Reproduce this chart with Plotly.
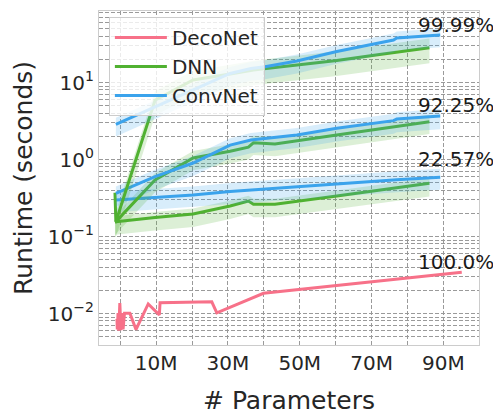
import plotly.graph_objects as go
import numpy as np

# ---------------- data (x in millions of parameters, y in seconds) ----------------
deco_x = [-0.9, -0.8, -0.6, -0.4, -0.1, 0.2, 0.5, 0.8, 1.2, 2.7, 4.4, 7.8, 10.9, 11.1, 25.5, 26.9, 39.9, 95.1]
deco_y = [0.0085, 0.0062, 0.0101, 0.0060, 0.0137, 0.0061, 0.0101, 0.0062, 0.0101, 0.0101,
          0.0062, 0.0133, 0.0096, 0.0138, 0.0142, 0.0102, 0.0183, 0.0343]

dnn_x = [-1.45, -1.2, 9.7, 20.3, 30.6, 35.7, 37.1, 43.1, 60.3, 71.2, 86.1]
dnn_top = [0.156, 0.156, 5.9, 10.8, 12.9, 14.3, 14.5, 15.7, 19.3, 22.8, 28.3]
dnn_mid = [0.37, 0.156, 0.542, 1.045, 1.28, 1.45, 1.65, 1.59, 2.08, 2.47, 3.10]
dnn_low = [0.156, 0.156, 0.177, 0.196, 0.249, 0.289, 0.263, 0.263, 0.337, 0.393, 0.491]

conv_x = [-1.2, 9.7, 20.3, 30.6, 36.4, 40.3, 49.2, 60.3, 76.1, 77.0, 89.1]
conv_top = [2.87, 4.8, 8.0, 13.1, 15.2, 16.0, 19.0, 25.3, 35.6, 37.8, 41.4]
conv_mid = [0.364, 0.598, 0.901, 1.54, 1.79, 1.88, 2.08, 2.54, 3.2, 3.35, 3.67]
conv_low = [0.298, 0.321, 0.346, 0.384, 0.402, 0.414, 0.44, 0.481, 0.541, 0.545, 0.587]

# band half-widths (log10 decades): (up, down)
dnn_band = {"top": (0.12, 0.20), "mid": (0.09, 0.16), "low": (0.07, 0.17)}
conv_band = {"top": (0.085, 0.16), "mid": (0.09, 0.17), "low": (0.11, 0.16)}

ann_text = ["99.99%", "92.25%", "22.57%", "100.0%"]
ann_y = [55.8, 5.1, 1.015, 0.0467]
ann_x = 82.4

xtick_vals = [10, 30, 50, 70, 90]
xtick_text = ["10M", "30M", "50M", "70M", "90M"]
xminor_vals = [0, 20, 40, 60, 80]
ytick_vals = [0.01, 0.1, 1, 10]
ytick_text = ["10<sup>\u22122</sup>", "10<sup>\u22121</sup>", "10<sup>0</sup>", "10<sup>1</sup>"]

PINK = "#f77189"
GREEN = "#50b131"
BLUE = "#3ba3ec"
TXT = "#262626"
FONT = "DejaVu Sans"


def rgba(hexc, a):
    h = hexc.lstrip("#")
    r, g, b = int(h[0:2], 16), int(h[2:4], 16), int(h[4:6], 16)
    return f"rgba({r},{g},{b},{a})"


fig = go.Figure()

fig.add_trace(go.Scatter(x=deco_x, y=deco_y, mode="lines", name="DecoNet",
                         line=dict(color=PINK, width=3), legendgroup="deco", legendrank=1))


def add_group(x, y, band, color, name, show, rank):
    x = np.array(x, dtype=float)
    y = np.array(y, dtype=float)
    up, dn = band
    hi = y * 10 ** up
    lo = y / 10 ** dn
    fig.add_trace(go.Scatter(x=np.concatenate([x, x[::-1]]), y=np.concatenate([hi, lo[::-1]]),
                             fill="toself", fillcolor=rgba(color, 0.2), line=dict(width=0),
                             mode="lines", hoverinfo="skip", showlegend=False))
    fig.add_trace(go.Scatter(x=x, y=y, mode="lines", name=name, line=dict(color=color, width=3),
                             legendgroup=name, showlegend=show, legendrank=rank))


first = True
for key, dy, cy in [("low", dnn_low, conv_low), ("mid", dnn_mid, conv_mid), ("top", dnn_top, conv_top)]:
    add_group(dnn_x, dy, dnn_band[key], GREEN, "DNN", first, 2)
    add_group(conv_x, cy, conv_band[key], BLUE, "ConvNet", first, 3)
    first = False

annotations = []
for txt, yv in zip(ann_text, ann_y):
    annotations.append(dict(x=ann_x, y=np.log10(yv), xref="x", yref="y", text=txt, showarrow=False,
                            xanchor="left", yanchor="middle", font=dict(size=20, color="#1a1a1a", family=FONT)))
annotations.append(dict(x=0.5, y=-0.165, xref="paper", yref="paper", text="# Parameters", showarrow=False,
                        xanchor="center", yanchor="middle", font=dict(size=25, color=TXT, family=FONT)))
annotations.append(dict(x=-0.2, y=0.5, xref="paper", yref="paper", text="Runtime (seconds)", showarrow=False,
                        textangle=-90, xanchor="center", yanchor="middle", font=dict(size=25, color=TXT, family=FONT)))

GRID = "#9a9a9a"
yminor = [m * 10.0 ** e for e in range(-3, 2) for m in range(2, 10)]

fig.update_layout(
    width=493, height=414,
    margin=dict(l=99, r=14, t=11, b=69, autoexpand=False),
    paper_bgcolor="white", plot_bgcolor="white",
    font=dict(family=FONT, color=TXT, size=20),
    showlegend=True,
    legend=dict(x=0.026, y=0.982, xanchor="left", yanchor="top",
                bgcolor="rgba(255,255,255,0.8)", bordercolor="#cccccc", borderwidth=1,
                itemwidth=52,
                font=dict(size=20, color=TXT, family=FONT), traceorder="normal"),
    annotations=annotations,
    xaxis=dict(range=[-5.9, 99.9], tickmode="array", tickvals=xtick_vals, ticktext=xtick_text,
               showgrid=True, gridcolor=GRID, gridwidth=1, griddash="4px,2px",
               minor=dict(tickmode="array", tickvals=xminor_vals, showgrid=True, gridcolor=GRID,
                          gridwidth=1, griddash="4px,2px"),
               showline=True, mirror=True, linecolor="#cccccc", linewidth=1.3,
               zeroline=False, ticks="", tickfont=dict(size=20, color=TXT, family=FONT)),
    yaxis=dict(type="log", range=[-2.409, 1.929], tickmode="array", tickvals=ytick_vals, ticktext=ytick_text,
               showgrid=True, gridcolor=GRID, gridwidth=1, griddash="4px,2px",
               minor=dict(tickmode="array", tickvals=yminor, showgrid=True, gridcolor=GRID,
                          gridwidth=1, griddash="4px,2px"),
               showline=True, mirror=True, linecolor="#cccccc", linewidth=1.3,
               zeroline=False, ticks="", tickfont=dict(size=20, color=TXT, family=FONT)),
)

fig.write_html("out.html")
